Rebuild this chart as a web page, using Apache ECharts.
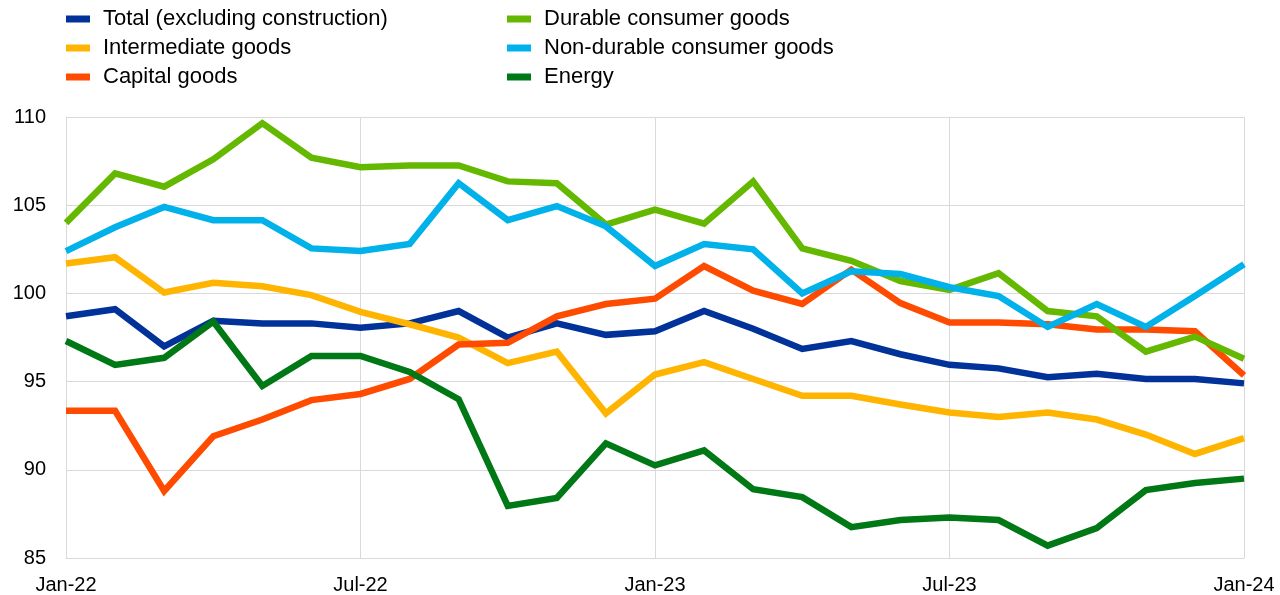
<!DOCTYPE html>
<html>
<head>
<meta charset="utf-8">
<script src="https://cdn.jsdelivr.net/npm/echarts@6/dist/echarts.min.js"></script>
<style>
    html, body { margin: 0; padding: 0; background: #fff; }
    #chart { width: 1280px; height: 595px; }
</style>
</head>
<body>
<div id="chart"></div>
<script>
// months Jan-22 .. Jan-24
const months = ['Jan-22', 'Feb-22', 'Mar-22', 'Apr-22', 'May-22', 'Jun-22', 'Jul-22', 'Aug-22', 'Sep-22', 'Oct-22', 'Nov-22', 'Dec-22',
    'Jan-23', 'Feb-23', 'Mar-23', 'Apr-23', 'May-23', 'Jun-23', 'Jul-23', 'Aug-23', 'Sep-23', 'Oct-23', 'Nov-23', 'Dec-23', 'Jan-24'];

const total = [98.7, 99.1, 97.0, 98.45, 98.3, 98.3, 98.05, 98.3, 99.0, 97.5, 98.3, 97.65, 97.85, 99.0, 98.0, 96.85, 97.3, 96.55, 95.95, 95.75, 95.25, 95.45, 95.15, 95.15, 94.9];
const intermediate = [101.7, 102.05, 100.05, 100.6, 100.4, 99.9, 98.95, 98.25, 97.5, 96.05, 96.7, 93.2, 95.4, 96.1, 95.15, 94.2, 94.2, 93.7, 93.25, 93.0, 93.25, 92.85, 92.0, 90.9, 91.8];
const capital = [93.35, 93.35, 88.8, 91.9, 92.85, 93.95, 94.3, 95.15, 97.1, 97.2, 98.7, 99.4, 99.7, 101.55, 100.15, 99.4, 101.35, 99.45, 98.35, 98.35, 98.25, 97.95, 97.95, 97.85, 95.35];
const durable = [104.0, 106.8, 106.05, 107.6, 109.65, 107.7, 107.15, 107.25, 107.25, 106.35, 106.25, 103.9, 104.75, 103.95, 106.35, 102.55, 101.85, 100.7, 100.2, 101.15, 99.0, 98.7, 96.7, 97.55, 96.3];
const nonDurable = [102.4, 103.75, 104.9, 104.15, 104.15, 102.55, 102.4, 102.8, 106.25, 104.15, 104.95, 103.8, 101.55, 102.8, 102.5, 100.0, 101.25, 101.1, 100.35, 99.85, 98.1, 99.4, 98.1, 99.85, 101.65];
const energy = [97.3, 95.95, 96.35, 98.4, 94.75, 96.45, 96.45, 95.55, 94.0, 87.95, 88.4, 91.5, 90.25, 91.1, 88.9, 88.45, 86.75, 87.15, 87.3, 87.15, 85.7, 86.7, 88.85, 89.25, 89.5];

const names = ['Total (excluding construction)', 'Intermediate goods', 'Capital goods',
    'Durable consumer goods', 'Non-durable consumer goods', 'Energy'];
const colors = ['#003299', '#ffb400', '#ff4b00', '#65b800', '#00b1ea', '#007816'];
const values = [total, intermediate, capital, durable, nonDurable, energy];

let myChart = echarts.init(document.getElementById('chart'));
const font = 'Liberation Sans, Arial, sans-serif';

let legendBase = {
    orient: 'vertical',
    top: 8,
    padding: 0,
    itemWidth: 24,
    itemHeight: 7,
    itemGap: 7,
    icon: 'rect',
    textStyle: { color: '#000', fontSize: 22, lineHeight: 22, fontFamily: font, padding: [0, 0, 0, 8] }
};

let option = {
    animation: false,
    color: colors,
    legend: [
        Object.assign({}, legendBase, { left: 66, data: names.slice(0, 3) }),
        Object.assign({}, legendBase, { left: 507, data: names.slice(3) })
    ],
    grid: {
        left: 66,
        right: 36,
        top: 117,
        bottom: 37,
        containLabel: false
    },
    xAxis: {
        type: 'category',
        boundaryGap: false,
        data: months,
        axisLine: { lineStyle: { color: '#d9d9d9', width: 1 } },
        axisTick: { show: false },
        axisLabel: { interval: 5, color: '#000', fontSize: 20, fontFamily: font, margin: 17 },
        splitLine: { show: true, interval: 5, lineStyle: { color: '#d9d9d9', width: 1 } }
    },
    yAxis: {
        type: 'value',
        min: 85,
        max: 110,
        interval: 5,
        axisLine: { show: true, lineStyle: { color: '#d9d9d9', width: 1 } },
        axisTick: { show: false },
        axisLabel: { color: '#000', fontSize: 20, fontFamily: font, margin: 20 },
        splitLine: { show: true, lineStyle: { color: '#d9d9d9', width: 1 } }
    },
    series: names.map((n, i) => ({
        name: n,
        type: 'line',
        data: values[i],
        symbol: 'none',
        lineStyle: { width: 6.5, color: colors[i], join: 'miter' },
        itemStyle: { color: colors[i] }
    }))
};

myChart.setOption(option);
</script>
</body>
</html>
